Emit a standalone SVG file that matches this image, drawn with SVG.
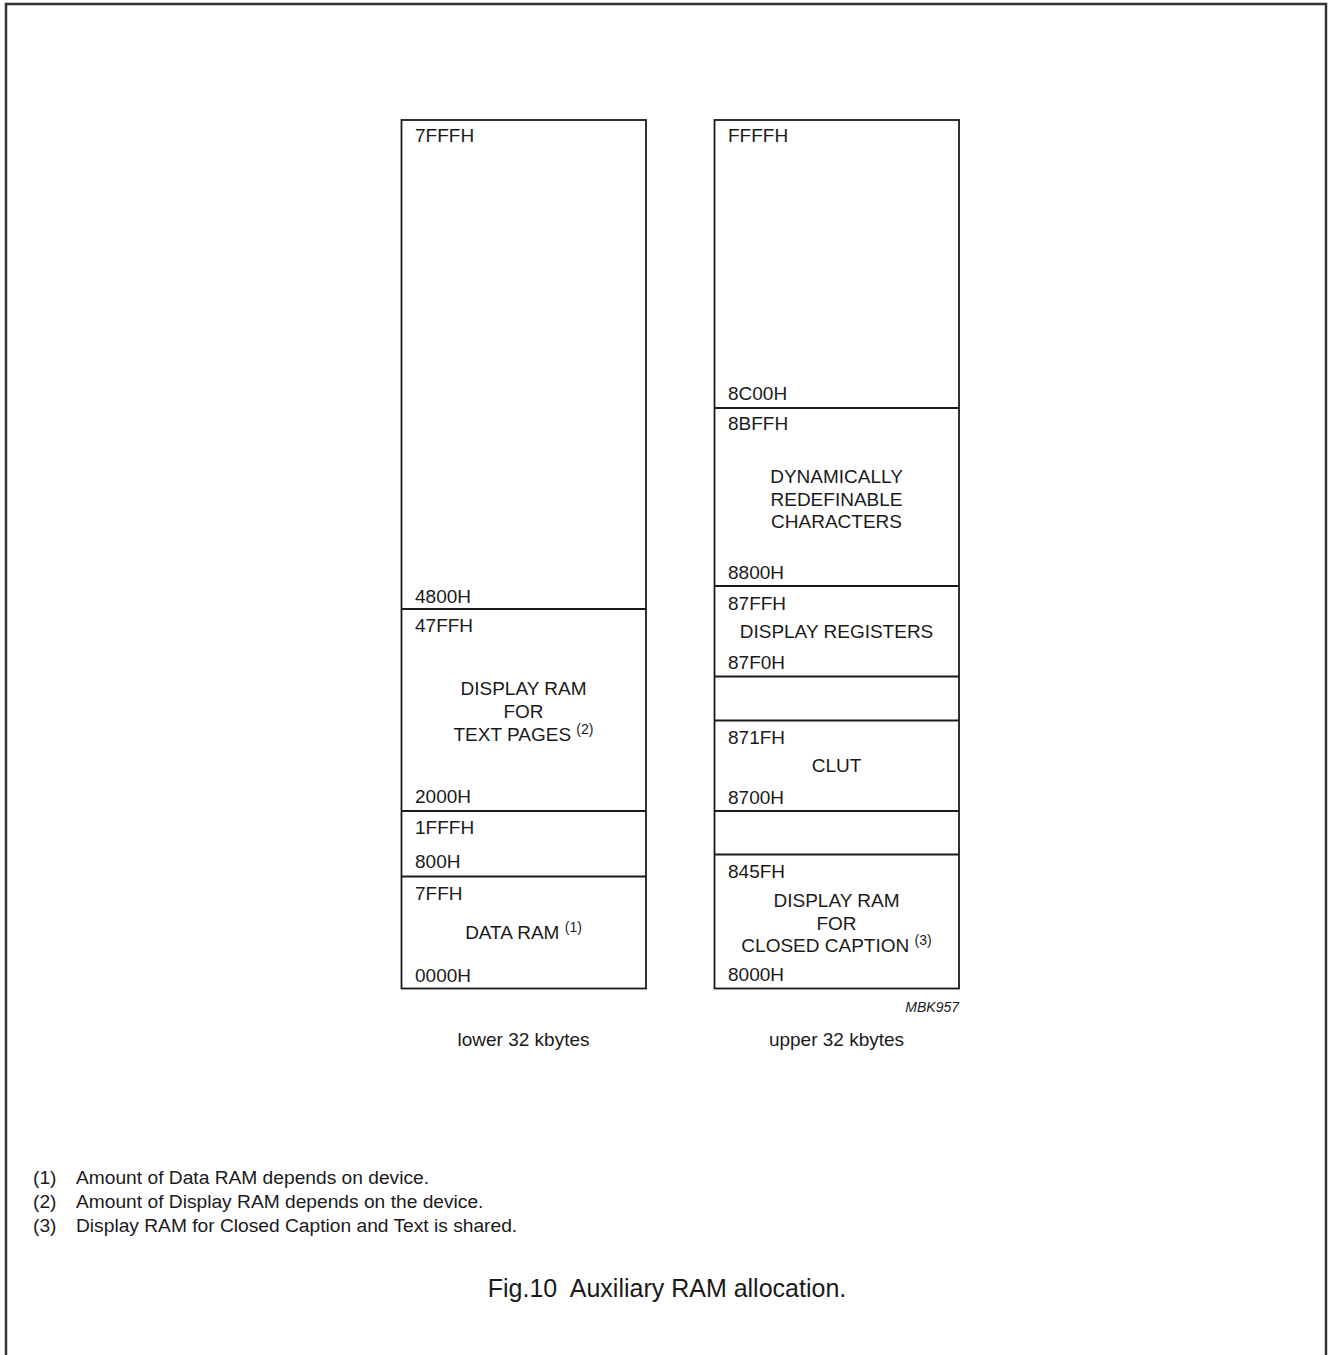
<svg xmlns="http://www.w3.org/2000/svg" width="1328" height="1355" viewBox="0 0 1328 1355">
<style>
text{font-family:"Liberation Sans",Arial,sans-serif;fill:#1a1a1a}
.l{font-size:19px}
.c{font-size:19px;text-anchor:middle}
.sup{font-size:14px}
.box{fill:#fff;stroke:#1a1a1a;stroke-width:1.8}
.div{stroke:#1a1a1a;stroke-width:1.8}
.fn{font-size:19.2px}
.cap{font-size:25px;text-anchor:middle}
.mbk{font-size:14px;font-style:italic;text-anchor:end}
</style>
<rect x="6" y="4" width="1320" height="1370" fill="#fff" stroke="#333" stroke-width="2.5"/>

<g id="lower">
<rect class="box" x="401.5" y="120" width="244.5" height="868.5"/>
</g>
<g id="upper">
<rect class="box" x="714.5" y="120" width="244.5" height="868.5"/>
</g>

<g id="connectors">
<line class="div" x1="401.5" y1="609" x2="646" y2="609"/>
<line class="div" x1="401.5" y1="811" x2="646" y2="811"/>
<line class="div" x1="401.5" y1="876.5" x2="646" y2="876.5"/>
<line class="div" x1="714.5" y1="408" x2="959" y2="408"/>
<line class="div" x1="714.5" y1="586" x2="959" y2="586"/>
<line class="div" x1="714.5" y1="676.5" x2="959" y2="676.5"/>
<line class="div" x1="714.5" y1="720.5" x2="959" y2="720.5"/>
<line class="div" x1="714.5" y1="811" x2="959" y2="811"/>
<line class="div" x1="714.5" y1="854.5" x2="959" y2="854.5"/>
</g>

<g id="lower-labels">
<text class="l" x="415" y="141.5">7FFFH</text>
<text class="l" x="415" y="602.5">4800H</text>
<text class="l" x="415" y="631.5">47FFH</text>
<text class="c" x="523.5" y="695">DISPLAY RAM</text>
<text class="c" x="523.5" y="718">FOR</text>
<text class="c" x="523.5" y="740.5">TEXT PAGES <tspan class="sup" dy="-7">(2)</tspan></text>
<text class="l" x="415" y="802.5">2000H</text>
<text class="l" x="415" y="834">1FFFH</text>
<text class="l" x="415" y="868">800H</text>
<text class="l" x="415" y="900">7FFH</text>
<text class="c" x="523.5" y="939">DATA RAM <tspan class="sup" dy="-7">(1)</tspan></text>
<text class="l" x="415" y="981.5">0000H</text>
<text class="c" x="523.5" y="1046">lower 32 kbytes</text>
</g>

<g id="upper-labels">
<text class="l" x="728" y="141.5">FFFFH</text>
<text class="l" x="728" y="400">8C00H</text>
<text class="l" x="728" y="430">8BFFH</text>
<text class="c" x="836.5" y="482.5">DYNAMICALLY</text>
<text class="c" x="836.5" y="505.5">REDEFINABLE</text>
<text class="c" x="836.5" y="528">CHARACTERS</text>
<text class="l" x="728" y="579">8800H</text>
<text class="l" x="728" y="610">87FFH</text>
<text class="c" x="836.5" y="637.5">DISPLAY REGISTERS</text>
<text class="l" x="728" y="669">87F0H</text>
<text class="l" x="728" y="744">871FH</text>
<text class="c" x="836.5" y="771.5">CLUT</text>
<text class="l" x="728" y="804">8700H</text>
<text class="l" x="728" y="878">845FH</text>
<text class="c" x="836.5" y="906.5">DISPLAY RAM</text>
<text class="c" x="836.5" y="930">FOR</text>
<text class="c" x="836.5" y="951.5">CLOSED CAPTION <tspan class="sup" dy="-7">(3)</tspan></text>
<text class="l" x="728" y="981">8000H</text>
<text class="mbk" x="959" y="1012">MBK957</text>
<text class="c" x="836.5" y="1046">upper 32 kbytes</text>
</g>

<g id="notes">
<text class="fn" x="33" y="1184">(1)</text><text class="fn" x="76" y="1184">Amount of Data RAM depends on device.</text>
<text class="fn" x="33" y="1208">(2)</text><text class="fn" x="76" y="1208">Amount of Display RAM depends on the device.</text>
<text class="fn" x="33" y="1232">(3)</text><text class="fn" x="76" y="1232">Display RAM for Closed Caption and Text is shared.</text>
<text class="cap" x="667" y="1297" xml:space="preserve">Fig.10  Auxiliary RAM allocation.</text>
</g>
</svg>
